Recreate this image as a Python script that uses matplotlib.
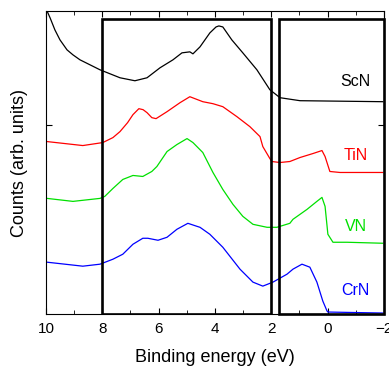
import matplotlib
matplotlib.use("Agg")
import matplotlib.pyplot as plt
from matplotlib.patches import Rectangle
from matplotlib.ticker import MultipleLocator

plt.rcParams['font.family'] = ['Liberation Sans', 'DejaVu Sans']

# spectra (binding energy in eV, counts in arb. units)
scn_x = [9.96, 9.85, 9.68, 9.50, 9.25, 9.04, 8.79, 8.08, 7.37, 6.84, 6.41, 5.95, 5.49,
         5.17, 4.89, 4.78, 4.53, 4.18, 3.96, 3.86, 3.72, 3.40, 3.01, 2.51, 2.05, 1.69,
         0.98, -1.96]
scn_y = [304, 297, 285, 275, 265, 260, 255, 245, 237, 234, 237, 247, 255,
         262, 263, 261, 268, 282, 288, 289, 288, 275, 262, 245, 225, 217,
         214, 213]

tin_x = [9.96, 8.69, 7.98, 7.62, 7.37, 7.10, 6.91, 6.70, 6.55, 6.41, 6.24, 6.09, 5.70,
         5.24, 4.89, 4.43, 4.07, 3.72, 3.22, 2.76, 2.40, 2.30, 2.05, 1.98, 1.69, 1.34,
         0.98, 0.52, 0.20, 0.09, -0.08, -0.44, -1.96]
tin_y = [173, 169, 172, 177, 183, 192, 200, 206, 205, 202, 197, 196, 203,
         212, 218, 213, 211, 208, 198, 188, 178, 168, 156, 153, 152, 153,
         157, 161, 164, 158, 143, 142, 142]

vn_x = [9.96, 9.04, 8.08, 7.91, 7.62, 7.27, 6.91, 6.56, 6.24, 6.06, 5.70, 5.35, 4.99,
        4.78, 4.43, 4.07, 3.72, 3.36, 3.01, 2.65, 2.15, 1.80, 1.34, 1.23, 0.73, 0.38,
        0.20, 0.09, -0.01, -0.19, -0.69, -1.96]
vn_y = [116, 113, 116, 118, 126, 135, 139, 138, 143, 148, 163, 170, 176,
        172, 162, 142, 125, 110, 98, 90, 87, 87, 91, 95, 105, 113,
        117, 108, 80, 72, 72, 71]

crn_x = [9.96, 8.69, 8.08, 7.62, 7.27, 6.91, 6.56, 6.38, 6.02, 5.70, 5.35, 4.96, 4.64,
         4.53, 4.18, 3.72, 3.11, 2.65, 2.30, 1.94, 1.44, 1.23, 0.91, 0.63, 0.38, 0.17,
         0.02, -0.01, -1.96]
crn_y = [52, 48, 50, 55, 60, 70, 76, 76, 74, 77, 85, 91, 88,
         87, 80, 67, 45, 32, 28, 32, 40, 45, 50, 47, 32, 13,
         3, 2, 1]

names = ['ScN', 'TiN', 'VN', 'CrN']
colors = ['black', 'red', '#00e000', 'blue']
label_y = [233, 159, 88, 24]

fig = plt.figure(figsize=(3.89, 3.66), dpi=100)
ax = fig.add_axes([0.118, 0.142, 0.869, 0.828])

for xs, ys, c in zip([scn_x, tin_x, vn_x, crn_x], [scn_y, tin_y, vn_y, crn_y], colors):
    ax.plot(xs, ys, color=c, lw=0.9)

for name, c, yy in zip(names, colors, label_y):
    ax.text(-1.0, yy, name, color=c, fontsize=11.5, ha='center', va='center')

# the two framed regions
ax.add_patch(Rectangle((2, 0), 6, 296, fill=False, lw=1.9, ec='black', zorder=5))
ax.add_patch(Rectangle((-2, 0), 3.72, 296, fill=False, lw=1.9, ec='black', zorder=5,
                       clip_on=False))

ax.set_xlim(10, -2)
ax.set_ylim(0, 304)
ax.xaxis.set_major_locator(MultipleLocator(2))
ax.xaxis.set_minor_locator(MultipleLocator(1))
ax.set_yticks([190])
ax.set_yticklabels([])
ax.tick_params(which='both', direction='in', top=True, right=True, labelsize=11)
ax.tick_params(which='major', length=4, pad=6)
ax.tick_params(which='minor', length=3)
ax.set_xlabel('Binding energy (eV)', fontsize=13, labelpad=9)
ax.set_ylabel('Counts (arb. units)', fontsize=13)
ax.yaxis.set_label_coords(-0.052, 0.5)

fig.savefig('out.png', dpi=100)
